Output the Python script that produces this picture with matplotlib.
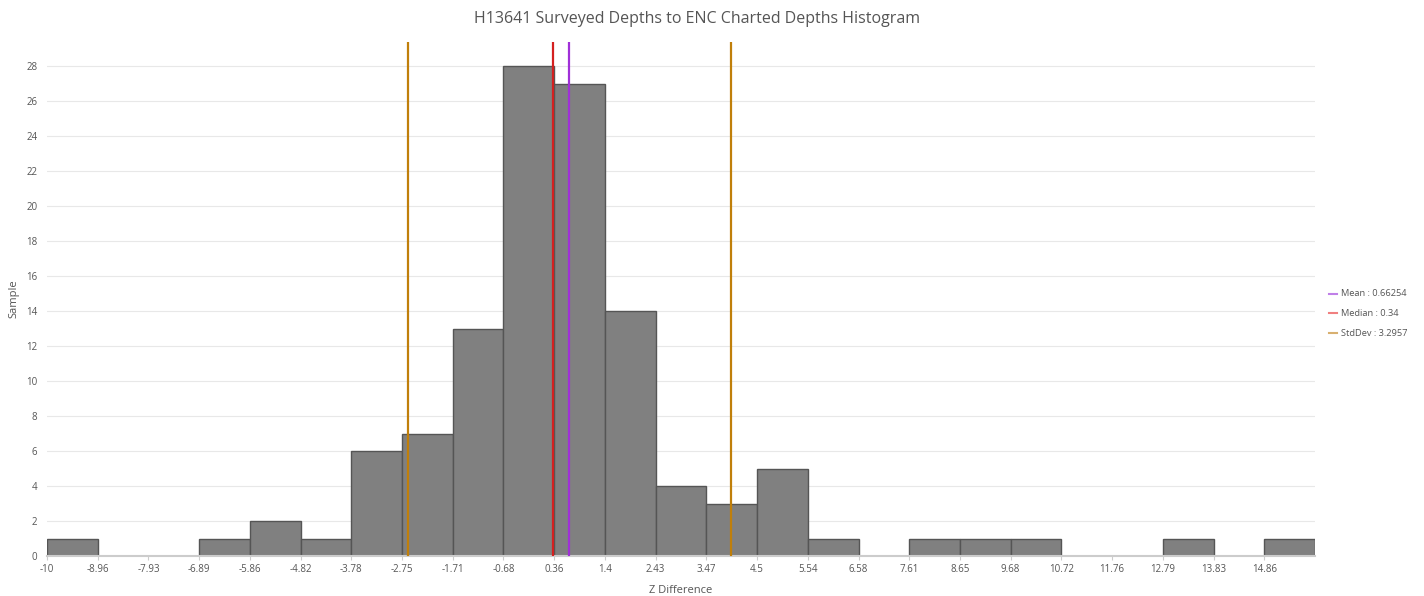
import matplotlib
matplotlib.use('Agg')
import matplotlib.pyplot as plt
import numpy as np
from matplotlib.lines import Line2D

plt.rcParams['font.family'] = ['Open Sans', 'DejaVu Sans']

# datos del histograma
bin_start = -10.0
bin_width = 1.0357
counts = [1, 0, 0, 1, 2, 1, 6, 7, 13, 28, 27, 14, 4, 3, 5, 1, 0, 1, 1, 1, 0, 0, 1, 0, 1]
tick_labels = ['-10', '-8.96', '-7.93', '-6.89', '-5.86', '-4.82', '-3.78', '-2.75', '-1.71',
               '-0.68', '0.36', '1.4', '2.43', '3.47', '4.5', '5.54', '6.58', '7.61', '8.65',
               '9.68', '10.72', '11.76', '12.79', '13.83', '14.86']
mean = 0.66254
median = 0.34
stddev = 3.2957

edges = bin_start + bin_width * np.arange(len(counts) + 1)

fig = plt.figure(figsize=(14.24, 5.96), dpi=100)
ax = fig.add_axes([47/1424, 40/596, (1315-47)/1424, (556-42)/596])

ax.bar(edges[:-1], counts, width=bin_width, align='edge', color='#808080',
       edgecolor='#555555', linewidth=1, zorder=2)

# lineas de estadisticas
ax.axvline(mean - stddev, color='#c07f0a', lw=1.6, zorder=3)
ax.axvline(mean + stddev, color='#c07f0a', lw=1.6, zorder=3)
ax.axvline(median, color='#d42020', lw=1.6, zorder=3)
ax.axvline(mean, color='#a030d8', lw=1.6, zorder=3)

ax.set_xlim(edges[0], edges[-1])
ax.set_ylim(0, 29.4)
ax.set_yticks(range(0, 29, 2))
ax.set_xticks(edges[:-1])
ax.set_xticklabels(tick_labels)
ax.tick_params(axis='x', labelsize=7, colors='#555555', length=3, color='#cccccc', pad=3)
ax.tick_params(axis='y', labelsize=7, colors='#555555', length=0, pad=7)
ax.grid(axis='y', color='#e8e8e8', lw=0.8, zorder=0)
for s in ['top', 'right', 'left']:
    ax.spines[s].set_visible(False)
ax.spines['bottom'].set_color('#cccccc')
ax.spines['bottom'].set_linewidth(1.5)

ax.set_xlabel('Z Difference', fontsize=8, color='#555555', labelpad=7)
ax.set_ylabel('Sample', fontsize=8, color='#555555', labelpad=5)

fig.text(697/1424, 1 - 19/596, 'H13641 Surveyed Depths to ENC Charted Depths Histogram',
         ha='center', va='center', fontsize=11.5, color='#555555')

# leyenda a la derecha
legend_items = [('Mean : 0.66254', '#c080e8', 294),
                ('Median : 0.34', '#f08080', 313),
                ('StdDev : 3.2957', '#d8b070', 333)]
for txt, col, ypx in legend_items:
    y = 1 - ypx/596
    fig.add_artist(Line2D([1329/1424, 1337/1424], [y, y], color=col, lw=1.5))
    fig.text(1341/1424, y, txt, fontsize=6.7, color='#555555', va='center')

fig.savefig('out.png', dpi=100)
